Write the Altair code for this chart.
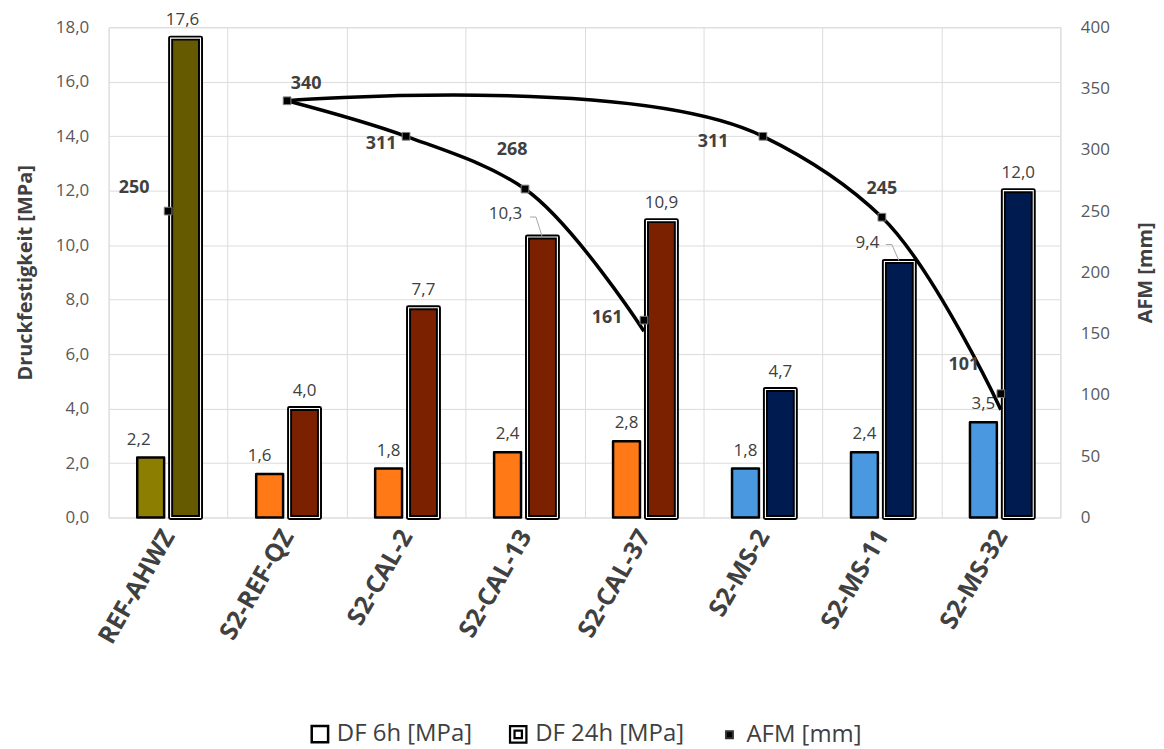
import altair as alt
import pandas as pd

# ---------------- data ----------------
CATEGORIES = ["REF-AHWZ", "S2-REF-QZ", "S2-CAL-2", "S2-CAL-13", "S2-CAL-37",
              "S2-MS-2", "S2-MS-11", "S2-MS-32"]
DF_6H = [2.2, 1.6, 1.8, 2.4, 2.8, 1.8, 2.4, 3.5]
DF_24H = [17.6, 4.0, 7.7, 10.3, 10.9, 4.7, 9.4, 12.0]
AFM = [250, 340, 311, 268, 161, 311, 245, 101]

CAL_CURVE_CATS = ["S2-REF-QZ", "S2-CAL-2", "S2-CAL-13", "S2-CAL-37"]
CAL_CURVE = [340, 311, 268, 152]
MS_CURVE_CATS = ["S2-REF-QZ", "S2-MS-2", "S2-MS-11", "S2-MS-32"]
MS_CURVE = [340, 311, 245, 88]

SERIES = ["DF 6h [MPa]", "DF 24h [MPa]", "AFM [mm]"]

# ---------------- styles ----------------
FONT = "Open Sans"
TXT = "#404040"
GRID = "#dcdcdc"
FILL_6H = ["#8C7E00"] + ["#FF7A17"] * 4 + ["#4A98DF"] * 3
FILL_24H = ["#655A00"] + ["#7B2100"] * 4 + ["#001B50"] * 3

# label offsets (pixels) for the AFM value labels
AFM_LABEL_OFFSET = {
    "REF-AHWZ": (-34, -23), "S2-REF-QZ": (19, -17), "S2-CAL-2": (-25, 8),
    "S2-CAL-13": (-13, -39), "S2-CAL-37": (-37, -2), "S2-MS-2": (-50, 6),
    "S2-MS-11": (0, -28), "S2-MS-32": (-37, -29),
}
# bar value labels that sit off-centre: key -> (dx, dy)
LABEL_SHIFT = {"REF-AHWZ|6h": (-12, 0), "S2-REF-QZ|6h": (-10, 0), "REF-AHWZ|24h": (-3, 0)}
# 24h labels that are moved to the left (label dx, label dy, leader elbow dx, dy)
MOVED_24H = {"S2-CAL-13": (-37, -5, -6, -20), "S2-MS-11": (-32, -1, -7, -17)}
BAR24_SHIFT = 17  # pixel distance of 24h bar centre from category centre
LABEL_DY = -9


def fmt(v):
    return f"{v:.1f}".replace(".", ",")


rows = []
keys, colors = [], []
for i, c in enumerate(CATEGORIES):
    for s, vals, cols in (("6h", DF_6H, FILL_6H), ("24h", DF_24H, FILL_24H)):
        k = f"{c}|{s}"
        rows.append({"cat": c, "s": s, "v": vals[i], "key": k, "lab": fmt(vals[i])})
        keys.append(k)
        colors.append(cols[i])
bars_df = pd.DataFrame(rows)

afm_df = pd.DataFrame({"cat": CATEGORIES, "a": AFM, "lab": [str(v) for v in AFM]})

curve_rows = []
for name, cats, vals in (("CAL", CAL_CURVE_CATS, CAL_CURVE), ("MS", MS_CURVE_CATS, MS_CURVE)):
    for j, (c, v) in enumerate(zip(cats, vals)):
        curve_rows.append({"cat": c, "a": v, "line": name, "o": j})
curve_df = pd.DataFrame(curve_rows)

legend_df = pd.DataFrame({"series": SERIES})

# ---------------- encodings ----------------
x_scale = alt.Scale(domain=CATEGORIES, paddingInner=0, paddingOuter=0)
x_enc = alt.X(
    "cat:N", sort=CATEGORIES, scale=x_scale,
    axis=alt.Axis(title=None, labelAngle=300, labelAlign="right", labelBaseline="middle",
                  labelFontSize=25, labelFontWeight="bold", labelColor=TXT, labelFont=FONT,
                  labelPadding=14, ticks=False, domain=False, grid=True, gridColor=GRID,
                  gridWidth=1, tickBand="extent"),
)
xo_enc = alt.XOffset("s:N", scale=alt.Scale(domain=["6h", "24h"], paddingInner=0, paddingOuter=0.705))

y_left_axis = alt.Axis(
    values=list(range(0, 19, 2)), labelExpr="replace(format(datum.value, '.1f'), '.', ',')",
    title="Druckfestigkeit [MPa]", titleFont=FONT, titleFontSize=20, titleFontWeight="bold",
    titleColor=TXT, labelFont=FONT, labelFontSize=17, labelColor="#595959", ticks=False,
    domain=False, grid=True, gridColor=GRID, labelPadding=20, titlePadding=20,
)
y_scale = alt.Scale(domain=[0, 18], nice=False)
y_main = alt.Y("v:Q", scale=y_scale, axis=y_left_axis)
y_plain = alt.Y("v:Q", scale=y_scale, axis=None)

a_scale = alt.Scale(domain=[0, 400], nice=False)
a_axis = alt.Axis(
    orient="right", values=list(range(0, 401, 50)), title="AFM [mm]", titleFont=FONT,
    titleFontSize=20, titleFontWeight="bold", titleColor=TXT, titleAngle=270,
    labelFont=FONT, labelFontSize=17, labelColor="#595959",
    ticks=False, domain=False, grid=False, labelPadding=20, titlePadding=46,
)
a_main = alt.Y("a:Q", scale=a_scale, axis=a_axis)
a_plain = alt.Y("a:Q", scale=a_scale, axis=None)

fill_enc = alt.Fill("key:N", scale=alt.Scale(domain=keys, range=colors), legend=None)

base_bars = alt.Chart(bars_df)

bars6 = base_bars.transform_filter("datum.s == '6h'").mark_bar(
    size=27, stroke="black", strokeWidth=2.5, strokeJoin="round"
).encode(x=x_enc, xOffset=xo_enc, y=y_main, fill=fill_enc)

bars24 = base_bars.transform_filter("datum.s == '24h'").mark_bar(
    size=30, stroke="black", strokeWidth=5, strokeJoin="round"
).encode(x=x_enc, xOffset=xo_enc, y=y_plain, fill=fill_enc)

bars24_inner = base_bars.transform_filter("datum.s == '24h'").mark_bar(
    size=30, fillOpacity=0, stroke="white", strokeWidth=1.1
).encode(x=x_enc, xOffset=xo_enc, y=y_plain)

special = list(LABEL_SHIFT.keys()) + [f"{c}|24h" for c in MOVED_24H]
special_expr = " || ".join([f"datum.key == '{k}'" for k in special])

label_layers = [
    base_bars.transform_filter(f"!({special_expr})").mark_text(
        baseline="bottom", dy=LABEL_DY, fontSize=17, color=TXT, font=FONT
    ).encode(x=x_enc, xOffset=xo_enc, y=y_plain, text="lab:N")
]
for k, (dx, dy) in LABEL_SHIFT.items():
    label_layers.append(
        base_bars.transform_filter(f"datum.key == '{k}'").mark_text(
            baseline="bottom", dx=dx, dy=LABEL_DY + dy, fontSize=17, color=TXT, font=FONT
        ).encode(x=x_enc, xOffset=xo_enc, y=y_plain, text="lab:N")
    )

for c, (dx, dy, ex, ey) in MOVED_24H.items():
    sel = base_bars.transform_filter(f"datum.key == '{c}|24h'")
    label_layers.append(
        sel.mark_text(baseline="bottom", dx=dx, dy=LABEL_DY + dy, fontSize=17, color=TXT, font=FONT)
        .encode(x=x_enc, xOffset=xo_enc, y=y_plain, text="lab:N")
    )
    # leader line: from bar top to the elbow, then short horizontal part
    label_layers.append(
        sel.mark_rule(color="#a6a6a6", strokeWidth=1, xOffset=BAR24_SHIFT, yOffset=-1,
                      x2Offset=BAR24_SHIFT + ex, y2Offset=ey)
        .encode(x=x_enc, x2="cat:N", y=y_plain, y2="v:Q")
    )
    label_layers.append(
        sel.mark_rule(color="#a6a6a6", strokeWidth=1, xOffset=BAR24_SHIFT + ex, yOffset=ey,
                      x2Offset=BAR24_SHIFT + ex - 6, y2Offset=ey)
        .encode(x=x_enc, x2="cat:N", y=y_plain, y2="v:Q")
    )

curve = alt.Chart(curve_df).mark_line(
    interpolate="catmull-rom", tension=0.9, color="black", strokeWidth=3.5
).encode(x=x_enc, y=a_main, detail="line:N", order="o:Q")

markers = alt.Chart(afm_df).mark_square(
    size=60, color="black", stroke="#7f7f7f", strokeWidth=1, opacity=1
).encode(x=x_enc, y=a_plain)

afm_labels = []
for c, (dx, dy) in AFM_LABEL_OFFSET.items():
    afm_labels.append(
        alt.Chart(afm_df).transform_filter(f"datum.cat == '{c}'").mark_text(
            dx=dx, dy=dy, fontSize=18, fontWeight="bold", color=TXT, font=FONT
        ).encode(x=x_enc, y=a_plain, text="lab:N")
    )

DOUBLE_SQ = "M-1,-1H1V1H-1Z M-0.45,-0.45H0.45V0.45H-0.45Z"
SMALL_SQ = "M-0.42,-0.42H0.42V0.42H-0.42Z"
LEG = alt.Legend(
    title=None, orient="none", legendX=200, legendY=697, direction="horizontal",
    labelFontSize=24, labelColor=TXT, labelFont=FONT, columnPadding=33, labelOffset=5,
    symbolOpacity=1, symbolSize=270,
)
legend_layer = alt.Chart(legend_df).mark_point(opacity=0, size=270).encode(
    fill=alt.Fill("series:N", scale=alt.Scale(domain=SERIES, range=["white", "white", "black"]), legend=LEG),
    stroke=alt.Stroke("series:N", scale=alt.Scale(domain=SERIES, range=["black", "black", "#333333"]), legend=LEG),
    shape=alt.Shape("series:N", scale=alt.Scale(domain=SERIES, range=["square", DOUBLE_SQ, SMALL_SQ]), legend=LEG),
    strokeWidth=alt.StrokeWidth("series:N", scale=alt.Scale(domain=SERIES, range=[2.5, 2.0, 1]), legend=LEG),
)

chart = alt.layer(
    bars6, bars24, bars24_inner, *label_layers,
    curve, markers, *afm_labels, legend_layer,
).resolve_scale(
    y="independent", fill="independent", stroke="independent", shape="independent",
    strokeWidth="independent",
).properties(
    width=955, height=492, padding={"left": 7, "top": 1, "right": 0, "bottom": 0},
).configure_view(stroke=GRID, strokeWidth=1).configure(background="white")

chart.save("out.html", embed_options={"renderer": "svg", "actions": False})
